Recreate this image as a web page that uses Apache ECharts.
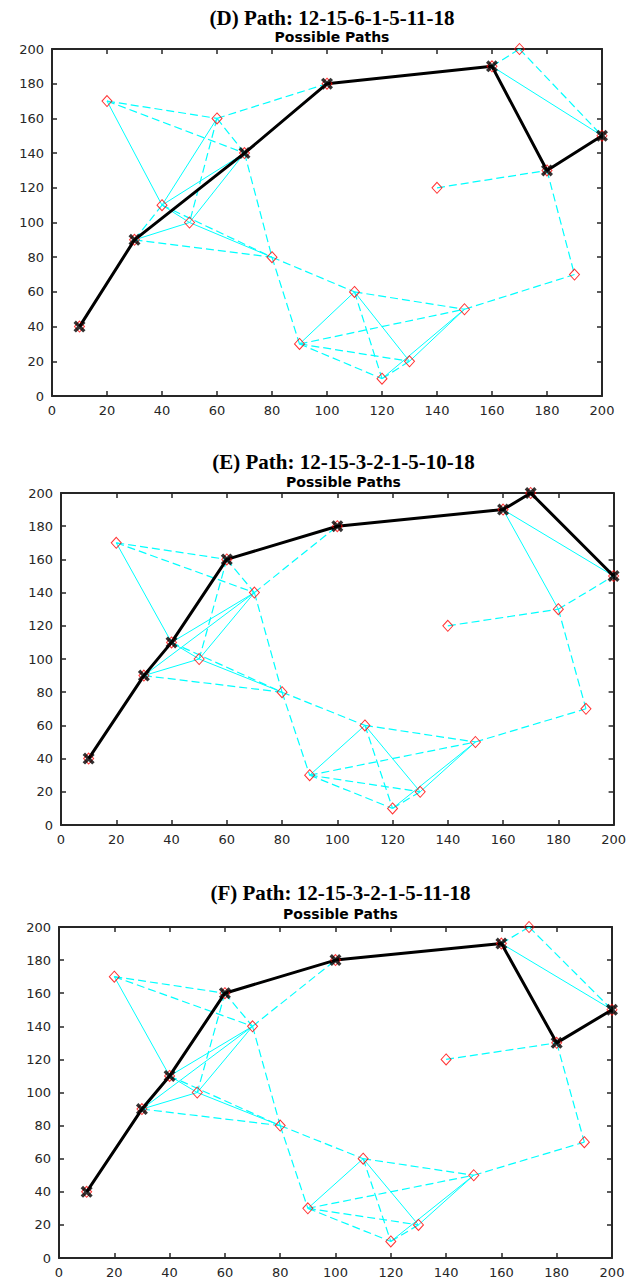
<!DOCTYPE html>
<html>
<head>
<meta charset="utf-8">
<script src="https://cdn.jsdelivr.net/npm/echarts@6/dist/echarts.min.js"></script>
<style>
  html, body { margin: 0; padding: 0; background: #fff; }
  #chart { width: 629px; height: 1279px; }
</style>
</head>
<body>
<div id="chart"></div>
<script>
// ---- Data ----
const nodeX = [10, 30, 40, 50, 20, 60, 70, 100, 80, 90, 110, 120, 130, 150, 190, 140, 180, 160, 170, 200];
const nodeY = [40, 90, 110, 100, 170, 160, 140, 180, 80, 30, 60, 10, 20, 50, 70, 120, 130, 190, 200, 150];

// edges between node indices (cyan, solid)
const solidEdges = [[4,2],[5,2],[6,2],[6,3],[6,1],[2,3],[1,3],[3,8],[10,9],[10,12],[11,13],[12,13],[17,19],[17,16]];
// edges between node indices (cyan, dashed)
const dashedEdges = [[4,5],[4,6],[5,7],[5,3],[5,6],[6,8],[6,7],[2,1],[2,8],[1,8],[8,10],[8,9],[10,13],[10,11],[9,13],[9,12],[9,11],[11,12],[13,14],[17,18],[18,19],[16,19],[15,16],[16,14]];

const titles = ['(D) Path: 12-15-6-1-5-11-18', '(E) Path: 12-15-3-2-1-5-10-18', '(F) Path: 12-15-3-2-1-5-11-18'];
const subtitle = 'Possible Paths';

// best path per panel (node indices into nodeX/nodeY)
const pathD = [0, 1, 6, 7, 17, 16, 19];
const pathE = [0, 1, 2, 5, 7, 17, 18, 19];
const pathF = [0, 1, 2, 5, 7, 17, 16, 19];
const paths = [pathD, pathE, pathF];

const axisMin = 0, axisMax = 200, axisStep = 20;

// ---- Layout ----
const grids = [
  { left: 52, top: 49, width: 550, height: 347 },
  { left: 61, top: 493, width: 555, height: 332 },
  { left: 59, top: 927, width: 553, height: 333 }
];
const titleTops = [[2, 25], [446, 470], [877, 902]];

const axisColor = '#262626';
const labelFont = 'DejaVu Sans';
const xMarker = 'path://M2,0 L5,3 L8,0 L10,2 L7,5 L10,8 L8,10 L5,7 L2,10 L0,8 L3,5 L0,2 Z';

const xAxes = [], yAxes = [], series = [], titleOpts = [];

function axisBase(pos, showLabel) {
  return {
    type: 'value', min: axisMin, max: axisMax, interval: axisStep,
    position: pos,
    axisLine: { show: true, onZero: false, lineStyle: { color: axisColor, width: 2 } },
    axisTick: { show: true, inside: true, length: 5, lineStyle: { color: axisColor, width: 1.5 } },
    axisLabel: { show: showLabel, color: axisColor, fontSize: 13, fontFamily: labelFont, margin: 8 },
    splitLine: { show: false }
  };
}

grids.forEach((g, i) => {
  const cx = g.left + g.width / 2;
  titleOpts.push({
    text: titles[i], left: cx, top: titleTops[i][0], textAlign: 'center',
    textStyle: { fontFamily: 'Liberation Serif', fontWeight: 'bold', fontSize: 21, color: '#000' }
  });
  titleOpts.push({
    text: subtitle, left: cx, top: titleTops[i][1], textAlign: 'center',
    textStyle: { fontFamily: labelFont, fontWeight: 'bold', fontSize: 14, color: '#000' }
  });

  xAxes.push(Object.assign(axisBase('bottom', true), { gridIndex: i }));
  xAxes.push(Object.assign(axisBase('top', false), { gridIndex: i }));
  yAxes.push(Object.assign(axisBase('left', true), { gridIndex: i }));
  yAxes.push(Object.assign(axisBase('right', false), { gridIndex: i }));

  const xi = 2 * i, yi = 2 * i;
  const toCoords = e => ({ coords: [[nodeX[e[0]], nodeY[e[0]]], [nodeX[e[1]], nodeY[e[1]]]] });

  series.push({
    type: 'lines', coordinateSystem: 'cartesian2d', xAxisIndex: xi, yAxisIndex: yi,
    silent: true, z: 2,
    lineStyle: { color: '#00FFFF', width: 1, opacity: 1, type: 'solid' },
    data: solidEdges.map(toCoords)
  });
  series.push({
    type: 'lines', coordinateSystem: 'cartesian2d', xAxisIndex: xi, yAxisIndex: yi,
    silent: true, z: 2,
    lineStyle: { color: '#00FFFF', width: 1.2, opacity: 1, type: [8, 4] },
    data: dashedEdges.map(toCoords)
  });
  // path line
  series.push({
    type: 'line', xAxisIndex: xi, yAxisIndex: yi, z: 3, silent: true,
    showSymbol: false, symbol: 'none',
    lineStyle: { color: '#000', width: 3 },
    data: paths[i].map(k => [nodeX[k], nodeY[k]])
  });
  // node diamonds
  series.push({
    type: 'scatter', xAxisIndex: xi, yAxisIndex: yi, z: 4, silent: true,
    symbol: 'diamond', symbolSize: [10, 11],
    itemStyle: { color: 'rgba(0,0,0,0)', borderColor: '#FF0000', borderWidth: 1 },
    data: nodeX.map((x, k) => [x, nodeY[k]])
  });
  // path X markers
  series.push({
    type: 'scatter', xAxisIndex: xi, yAxisIndex: yi, z: 5, silent: true,
    symbol: xMarker, symbolSize: 12,
    itemStyle: { color: '#000' },
    data: paths[i].map(k => [nodeX[k], nodeY[k]])
  });
});

const chart = echarts.init(document.getElementById('chart'), null, { renderer: 'svg' });
chart.setOption({
  animation: false,
  backgroundColor: '#fff',
  title: titleOpts,
  grid: grids,
  xAxis: xAxes,
  yAxis: yAxes,
  series: series
});
</script>
</body>
</html>
